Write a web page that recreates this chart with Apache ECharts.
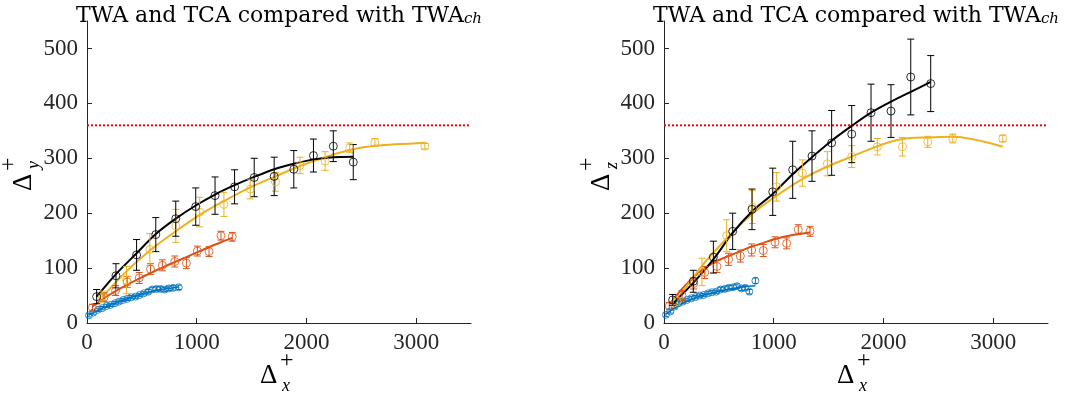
<!DOCTYPE html>
<html><head><meta charset="utf-8">
<script src="https://cdn.jsdelivr.net/npm/echarts@6/dist/echarts.min.js"></script>
<style>html,body{margin:0;padding:0;background:#fff}#c{width:1070px;height:394px}</style>
</head><body><div id="c"></div>
<script>
// ---------- tick labels ----------
const xTicks = [0, 1000, 2000, 3000];
const yTicks = [0, 100, 200, 300, 400, 500];
const refLevel = 360;

// ---------- left panel (Delta_y+) ----------
const blueYX = [18,58,100,139,179,215,255,291,330,367,403,442,479,518,558,594,633,670,709,745,785,836];
const blueYV = [14,19,24,27,31,33,36,39,42,44,47,48,51,54,57,61,62,62,61,63,64,65];
const blueYErr = [3,3,3,3,3,3,3,3,3,3,3,3,3,3,4,4,4,4,4,4,4,4];
const blueYFit = [15,19,23,27,30,33,36,39,42,44,47,49,51,54,56,58,60,61,62,63,64,66];

const orangeYX = [50,155,261,367,476,579,687,800,906,1006,1112,1221,1324];
const orangeYV = [28,47,59,75,82,98,105,112,109,131,130,159,157];
const orangeYErr = [6,8,9,10,10,10,10,10,10,9,9,8,8];
const orangeYFit = [30,45,58,70,81,91,101,111,120,129,138,147,155];

const yellowYX = [140,360,573,809,1027,1248,1488,1718,1942,2170,2394,2624,3079];
const yellowYV = [48,78,134,177,202,216,244,257,287,295,319,329,322];
const yellowYErr = [10,25,29,30,27,22,18,17,15,17,9,7,5];
const yellowYFit = [48,94,132,167,197,222,247,267,286,302,315,323,328];

const blackYX = [88,264,452,627,809,991,1167,1345,1524,1706,1885,2064,2245,2427];
const blackYV = [48,86,124,161,190,212,232,248,265,267,280,305,322,293];
const blackYErr = [13,22,28,31,32,34,34,31,35,35,34,30,28,32];
const blackYFit = [48,89,127,162,190,214,234,251,266,280,290,298,302,303];

// ---------- right panel (Delta_z+) ----------
const blueZX = [18,58,97,134,170,210,249,286,325,362,401,438,477,514,553,590,629,665,705,741,778,833];
const blueZV = [15,21,30,36,39,42,45,47,50,51,54,56,57,61,62,64,65,67,63,64,57,77];
const blueZErr = [3,3,3,3,3,3,3,3,3,3,3,3,3,4,4,4,4,4,4,4,4,5];
const blueZFit = [16,22,27,32,36,40,43,46,49,51,53,55,57,59,60,62,63,64,65,66,67,68];

const orangeZX = [48,164,271,371,483,589,696,799,905,1012,1118,1224,1331];
const orangeZV = [31,50,72,92,103,116,122,133,132,147,145,170,167];
const orangeZErr = [6,9,10,11,11,11,11,11,11,10,10,9,9];
const orangeZFit = [34,62,84,100,113,122,131,139,146,153,158,162,165];

const yellowZX = [118,346,571,805,1027,1261,1489,1711,1944,2173,2404,2632,3088];
const yellowZV = [39,93,159,211,248,273,290,303,321,321,330,336,336];
const yellowZErr = [8,25,29,30,26,24,22,20,15,17,10,8,6];
const yellowZFit = [42,104,154,199,232,262,285,303,322,335,338,339,321];

const blackZX = [79,267,450,626,802,991,1173,1349,1528,1711,1887,2069,2249,2431];
const blackZV = [42,76,120,167,207,239,279,304,328,344,383,386,448,436];
const blackZErr = [10,20,29,33,37,43,52,46,59,52,52,48,69,51];
const blackZFit = [35,73,116,164,203,235,271,302,332,359,383,403,421,439];

const C = {blue:'#0072BD', orange:'#D95319', yellow:'#EDB120', black:'#000000', red:'#FF0000', axis:'#262626'};
const SERIF = 'Liberation Serif';

const zip = (xs, ys) => xs.map((x, i) => [x, ys[i]]);
const zip3 = (xs, ys, es) => xs.map((x, i) => [x, ys[i], es[i]]);

function fitS(xs, ys, color, gi, w) {
  return {type:'line', xAxisIndex:gi, yAxisIndex:gi, data:zip(xs, ys), smooth:0.3,
    showSymbol:false, symbol:'none', lineStyle:{color, width:w}, silent:true, z:3};
}
function dotS(xs, ys, color, gi, size) {
  return {type:'scatter', xAxisIndex:gi, yAxisIndex:gi, data:zip(xs, ys), symbol:'circle',
    symbolSize:size, itemStyle:{color:'rgba(0,0,0,0)', borderColor:color, borderWidth:1}, z:4};
}
function errS(xs, ys, es, color, gi, cap) {
  return {type:'custom', xAxisIndex:gi, yAxisIndex:gi, data:zip3(xs, ys, es), z:4,
    renderItem: function(params, api) {
      const x = api.value(0), y = api.value(1), e = api.value(2);
      const t = api.coord([x, y + e]), b = api.coord([x, y - e]);
      const st = {stroke:color, lineWidth:1};
      return {type:'group', children:[
        {type:'line', shape:{x1:t[0], y1:t[1], x2:b[0], y2:b[1]}, style:st},
        {type:'line', shape:{x1:t[0]-cap, y1:t[1], x2:t[0]+cap, y2:t[1]}, style:st},
        {type:'line', shape:{x1:b[0]-cap, y1:b[1], x2:b[0]+cap, y2:b[1]}, style:st}
      ]};
    }};
}
function refS(gi) {
  return {type:'line', xAxisIndex:gi, yAxisIndex:gi, data:[[0, refLevel],[3500, refLevel]],
    symbol:'none', lineStyle:{color:C.red, width:2, type:[2,2]}, silent:true, z:2};
}
function panel(gi, d) {
  return [
    refS(gi),
    errS(d.bx, d.bv, d.be, C.blue, gi, 2.5), dotS(d.bx, d.bv, C.blue, gi, 7), fitS(d.bx, d.bf, C.blue, gi, 1.5),
    errS(d.ox, d.ov, d.oe, C.orange, gi, 3.5), dotS(d.ox, d.ov, C.orange, gi, 8), fitS(d.ox, d.of, C.orange, gi, 2),
    errS(d.yx, d.yv, d.ye, C.yellow, gi, 3.5), dotS(d.yx, d.yv, C.yellow, gi, 8), fitS(d.yx, d.yf, C.yellow, gi, 2),
    errS(d.kx, d.kv, d.ke, C.black, gi, 3.5), dotS(d.kx, d.kv, C.black, gi, 8), fitS(d.kx, d.kf, C.black, gi, 2)
  ];
}

function xAx(gi) {
  return {type:'value', gridIndex:gi, min:0, max:3500, interval:1000,
    axisLine:{onZero:false, lineStyle:{color:C.axis, width:1}},
    axisTick:{inside:true, length:5, customValues:xTicks, lineStyle:{color:C.axis}},
    axisLabel:{customValues:xTicks, formatter:v => String(v), color:C.axis, fontFamily:SERIF, fontSize:23, margin:8},
    splitLine:{show:false}};
}
function yAx(gi) {
  return {type:'value', gridIndex:gi, min:0, max:550, interval:50,
    axisLine:{show:true, onZero:false, lineStyle:{color:C.axis, width:1}},
    axisTick:{show:true, inside:true, length:5, customValues:yTicks, lineStyle:{color:C.axis}},
    axisLabel:{customValues:yTicks, formatter:v => String(v), color:C.axis, fontFamily:SERIF, fontSize:23, margin:9},
    splitLine:{show:false}};
}

function titleG(cx) {
  return {type:'text', x:cx, y:0, style:{
    text:'{m|TWA and TCA compared with TWA}{s|ch}', align:'center', verticalAlign:'top',
    rich:{m:{fontFamily:'DejaVu Serif', fontSize:22, lineHeight:27, verticalAlign:'bottom', fill:'#000'},
          s:{fontFamily:'DejaVu Serif', fontStyle:'italic', fontSize:15, lineHeight:15, verticalAlign:'bottom', fill:'#000'}}}};
}
function xLabelG(x0, y0, sub) {
  return {type:'group', x:x0, y:y0, children:[
    {type:'text', x:0, y:0, style:{text:'Δ', fontFamily:SERIF, fontSize:27, fill:'#000', align:'left', verticalAlign:'top'}},
    {type:'text', x:20, y:-13, style:{text:'+', fontFamily:SERIF, fontSize:24, fill:'#000', align:'left', verticalAlign:'top'}},
    {type:'text', x:22, y:15, style:{text:sub, fontFamily:SERIF, fontStyle:'italic', fontSize:18, fill:'#000', align:'left', verticalAlign:'top'}}
  ]};
}
function yLabelG(x0, y0, sub) {
  const g = xLabelG(x0, y0, sub);
  g.rotation = Math.PI / 2;
  return g;
}

const chart = echarts.init(document.getElementById('c'), null, {renderer:'canvas'});
chart.setOption({
  animation:false,
  backgroundColor:'#fff',
  grid:[
    {left:87, top:21, width:384, height:302, containLabel:false},
    {left:664, top:21, width:384, height:302, containLabel:false}
  ],
  xAxis:[xAx(0), xAx(1)],
  yAxis:[yAx(0), yAx(1)],
  graphic:[
    titleG(279), titleG(856),
    xLabelG(260, 362, 'x'), xLabelG(837, 362, 'x'),
    yLabelG(10, 191, 'y'), yLabelG(588, 191, 'z')
  ],
  series:[].concat(
    panel(0, {bx:blueYX, bv:blueYV, be:blueYErr, bf:blueYFit,
              ox:orangeYX, ov:orangeYV, oe:orangeYErr, of:orangeYFit,
              yx:yellowYX, yv:yellowYV, ye:yellowYErr, yf:yellowYFit,
              kx:blackYX, kv:blackYV, ke:blackYErr, kf:blackYFit}),
    panel(1, {bx:blueZX, bv:blueZV, be:blueZErr, bf:blueZFit,
              ox:orangeZX, ov:orangeZV, oe:orangeZErr, of:orangeZFit,
              yx:yellowZX, yv:yellowZV, ye:yellowZErr, yf:yellowZFit,
              kx:blackZX, kv:blackZV, ke:blackZErr, kf:blackZFit})
  )
});
</script></body></html>
